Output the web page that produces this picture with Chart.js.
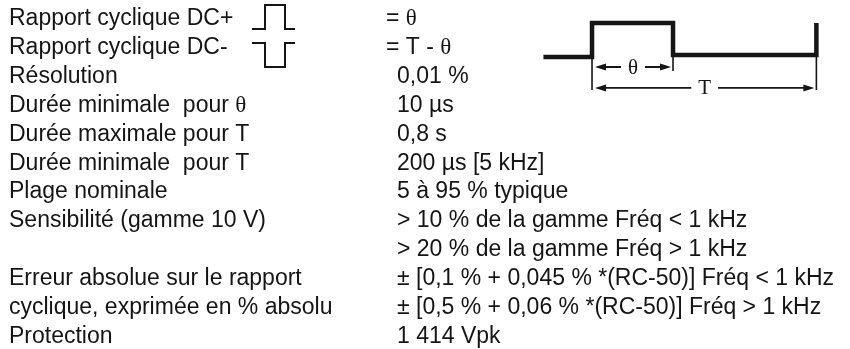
<!DOCTYPE html>
<html>
<head>
<meta charset="utf-8">
<script src="https://cdn.jsdelivr.net/npm/chart.js@4"></script>
<style>
  body { margin: 0; background: #fff; }
  #wrap { width: 850px; height: 349px; position: relative; }
</style>
</head>
<body>
<div id="wrap"><canvas id="chart"></canvas></div>
<script>
// Libellés (colonne de gauche) et valeurs (colonne de droite)
const labels = [
  'Rapport cyclique DC+',
  'Rapport cyclique DC-',
  'Résolution',
  'Durée minimale  pour θ',
  'Durée maximale pour T',
  'Durée minimale  pour T',
  'Plage nominale',
  'Sensibilité (gamme 10 V)',
  '',
  'Erreur absolue sur le rapport',
  'cyclique, exprimée en % absolu',
  'Protection'
];
const values = [
  '= θ',
  '= T - θ',
  '0,01 %',
  '10 µs',
  '0,8 s',
  '200 µs [5 kHz]',
  '5 à 95 % typique',
  '> 10 % de la gamme Fréq < 1 kHz',
  '> 20 % de la gamme Fréq > 1 kHz',
  '± [0,1 % + 0,045 % *(RC-50)] Fréq < 1 kHz',
  '± [0,5 % + 0,06 % *(RC-50)] Fréq > 1 kHz',
  '1 414 Vpk'
];

// Signal (temps en unités de θ, niveau 0 = bas, 1 = haut)
const periodT = 2.77;
const waveTime = [-0.6, 0, 0, 1, 1, periodT, periodT];
const waveLevel = [-0.06, -0.06, 1, 1, 0, 0, 1];
// Traits de repère verticaux
const markerTime = [0, 1, periodT];
const markerBottom = [-1.09, -0.5, -1.09];
// Flèches de cote
const arrowFrom = [0, 0];
const arrowTo = [1, periodT];
const arrowLevel = [-0.375, -1.03];
const arrowText = ['θ', 'T'];

// Petites icônes DC+ et DC-
const iconTime = [-0.65, 0, 0, 1, 1, 1.5];
const iconPlus = [0, 0, 1, 1, 0, 0];
const iconMinus = [1, 1, 0, 0, 1, 1];

const ink = '#151515';

function pts(xs, ys) {
  return xs.map((x, i) => ({ x: x, y: ys[i] }));
}

const datasets = [
  {
    data: pts(waveTime, waveLevel),
    xAxisID: 'xw', yAxisID: 'yw',
    borderColor: ink, borderWidth: 4.5
  },
  {
    data: pts(iconTime, iconPlus),
    xAxisID: 'xi', yAxisID: 'yPlus',
    borderColor: ink, borderWidth: 2
  },
  {
    data: pts(iconTime, iconMinus),
    xAxisID: 'xi', yAxisID: 'yMinus',
    borderColor: ink, borderWidth: 2
  }
];
markerTime.forEach((t, i) => {
  datasets.push({
    data: [{ x: t, y: 0 }, { x: t, y: markerBottom[i] }],
    xAxisID: 'xw', yAxisID: 'yw',
    borderColor: ink, borderWidth: 1.6
  });
});

// Texte avec θ en police à empattements
function drawRich(ctx, str, x, y, sans, serif) {
  const parts = str.split('θ');
  parts.forEach((p, i) => {
    ctx.font = sans;
    ctx.fillText(p, x, y);
    x += ctx.measureText(p).width;
    if (i < parts.length - 1) {
      ctx.font = serif;
      ctx.fillText('θ', x, y);
      x += ctx.measureText('θ').width;
    }
  });
}

const textPlugin = {
  id: 'textPlugin',
  afterDatasetsDraw(chart) {
    const ctx = chart.ctx;
    const yr = chart.scales.yr;
    const xw = chart.scales.xw;
    const yw = chart.scales.yw;
    ctx.save();
    ctx.fillStyle = ink;
    ctx.strokeStyle = ink;
    ctx.textBaseline = 'alphabetic';
    ctx.textAlign = 'left';
    const sans = '23px "Liberation Sans", Arial, sans-serif';
    const serif = '23px "Liberation Serif", "Times New Roman", serif';
    labels.forEach((lab, i) => {
      const y = yr.getPixelForValue(i);
      drawRich(ctx, lab, 9, y, sans, serif);
      drawRich(ctx, values[i], values[i].startsWith('=') ? 386 : 397, y, sans, serif);
    });

    // flèches de cote
    ctx.font = '21px "Liberation Serif", "Times New Roman", serif';
    ctx.textAlign = 'center';
    ctx.textBaseline = 'middle';
    ctx.lineWidth = 1.8;
    arrowFrom.forEach((f, i) => {
      const x1 = xw.getPixelForValue(f) + 3;
      const x2 = xw.getPixelForValue(arrowTo[i]) - 2;
      const y = yw.getPixelForValue(arrowLevel[i]);
      const xm = (x1 + x2) / 2;
      const half = ctx.measureText(arrowText[i]).width / 2 + 7;
      ctx.beginPath();
      ctx.moveTo(x1 + 8, y); ctx.lineTo(xm - half, y);
      ctx.moveTo(xm + half, y); ctx.lineTo(x2 - 8, y);
      ctx.stroke();
      ctx.beginPath();
      ctx.moveTo(x1, y); ctx.lineTo(x1 + 11, y - 3.5); ctx.lineTo(x1 + 11, y + 3.5); ctx.closePath();
      ctx.moveTo(x2, y); ctx.lineTo(x2 - 11, y - 3.5); ctx.lineTo(x2 - 11, y + 3.5); ctx.closePath();
      ctx.fill();
      ctx.fillText(arrowText[i], xm, y + 1);
    });
    ctx.restore();
  }
};

const hidden = { type: 'linear', display: false };

new Chart(document.getElementById('chart'), {
  type: 'scatter',
  data: { datasets: datasets },
  options: {
    responsive: true,
    maintainAspectRatio: false,
    animation: false,
    layout: { padding: 0 },
    elements: {
      line: { tension: 0, borderJoinStyle: 'miter', borderCapStyle: 'butt', fill: false },
      point: { radius: 0, hoverRadius: 0 }
    },
    datasets: { scatter: { showLine: true } },
    plugins: { legend: { display: false }, tooltip: { enabled: false } },
    events: [],
    scales: {
      // lignes de texte : ligne i -> ligne de base
      yr: { ...hidden, axis: 'y', reverse: true, min: -0.865, max: 11.211 },
      // schéma du signal
      xw: { ...hidden, axis: 'x', min: -7.309, max: 3.185 },
      yw: { ...hidden, axis: 'y', min: -9.188, max: 1.719 },
      // icônes
      xi: { ...hidden, axis: 'x', min: -13.25, max: 29.25 },
      yPlus: { ...hidden, axis: 'y', min: -13.333, max: 1.208 },
      yMinus: { ...hidden, axis: 'y', min: -11.75, max: 2.792 }
    }
  },
  plugins: [textPlugin]
});
</script>
</body>
</html>
